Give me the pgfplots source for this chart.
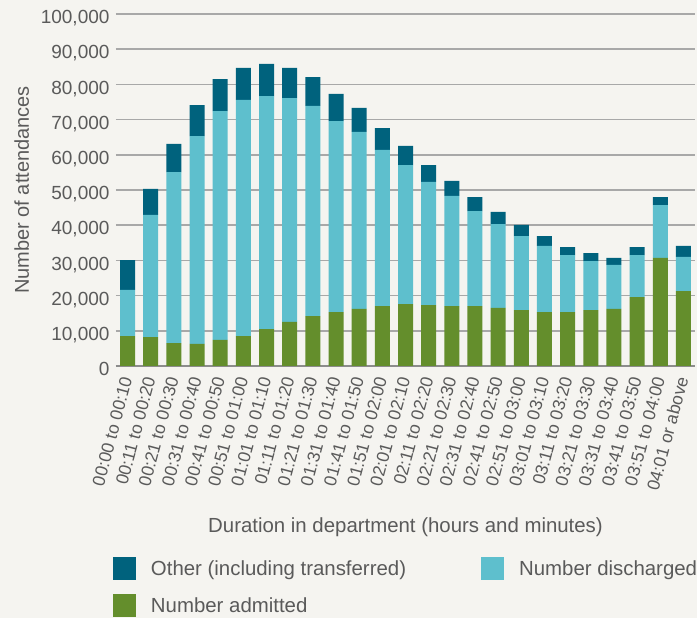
\documentclass[border=0pt]{standalone}
\usepackage{pgfplots}
\usepackage{pgfplotstable}
\pgfplotsset{compat=1.18}
\usepackage{fontspec}
\setmainfont{Liberation Sans}
\definecolor{bgc}{HTML}{F5F4F0}
\definecolor{othc}{HTML}{00627D}
\definecolor{disc}{HTML}{5EBFCD}
\definecolor{admc}{HTML}{648E2C}
\definecolor{gridc}{HTML}{A8A8A8}
\definecolor{zeroc}{HTML}{8C8C8C}
\definecolor{textc}{HTML}{5A5A5A}

\pgfplotstableread{
x adm dis oth
0 8500 13100 8500
1 8200 34700 7400
2 6500 48600 8000
3 6250 59050 8800
4 7400 65000 9100
5 8500 67100 9100
6 10500 66200 9100
7 12500 63600 8600
8 14200 59700 8200
9 15300 54300 7700
10 16200 50300 6800
11 17000 44400 6200
12 17600 39500 5400
13 17300 35000 4800
14 17000 31300 4300
15 17000 27000 4000
16 16500 23800 3450
17 15900 21000 3200
18 15300 18800 2800
19 15300 16200 2300
20 15900 13900 2300
21 16200 12500 2000
22 19600 11900 2300
23 30700 15000 2300
24 21300 9700 3100
}\datatable

\begin{document}
\begin{tikzpicture}
\fill[bgc] (0pt,0pt) rectangle (697pt,618pt);
\useasboundingbox (0pt,0pt) rectangle (697pt,618pt);
\begin{axis}[
  at={(116pt,252pt)}, anchor=south west,
  scale only axis, width=579pt, height=352pt,
  ybar stacked, bar width=15pt,
  xmin=-0.5, xmax=24.5, ymin=0, ymax=100000,
  enlargelimits=false, clip=false,
  axis line style={draw=none},
  major tick length=0pt,
  ytick={0,10000,20000,30000,40000,50000,60000,70000,80000,90000,100000},
  yticklabels={0,{10,000},{20,000},{30,000},{40,000},{50,000},{60,000},{70,000},{80,000},{90,000},{100,000}},
  ymajorgrids, grid style={line width=1.6pt, gridc},
  extra y ticks={0}, extra y tick labels={},
  extra y tick style={grid style={line width=2.5pt, zeroc}},
  scaled y ticks=false,
  yticklabel style={font=\fontsize{19}{22}\selectfont, text=textc, anchor=base east, yshift=-9.8pt, xshift=-3pt},
  xtick={0,...,24},
  xticklabels={00:00 to 00:10,00:11 to 00:20,00:21 to 00:30,00:31 to 00:40,00:41 to 00:50,00:51 to 01:00,01:01 to 01:10,01:11 to 01:20,01:21 to 01:30,01:31 to 01:40,01:41 to 01:50,01:51 to 02:00,02:01 to 02:10,02:11 to 02:20,02:21 to 02:30,02:31 to 02:40,02:41 to 02:50,02:51 to 03:00,03:01 to 03:10,03:11 to 03:20,03:21 to 03:30,03:31 to 03:40,03:41 to 03:50,03:51 to 04:00,04:01 or above},
  xticklabel style={font=\fontsize{17.5}{21}\selectfont, text=textc, yshift=-8pt, rotate=75, anchor=east},
  xlabel={Duration in department (hours and minutes)},
  xlabel style={font=\fontsize{20.4}{24}\selectfont, text=textc, at={(axis description cs:0.5,-0.4716)}, anchor=base},
  ylabel={Number of attendances},
  ylabel style={font=\fontsize{20}{24}\selectfont, text=textc, at={(axis description cs:-0.1503,0.5)}, anchor=base, rotate=0},
  legend style={at={(axis description cs:-0.0052,-0.5426)}, anchor=north west, draw=none, fill=none, inner sep=0pt, outer sep=0pt,
    font=\fontsize{20.4}{24}\selectfont, text=textc, legend columns=2, row sep=13.8pt,
    /tikz/every odd column/.append style={column sep=15pt},
    /tikz/every even column/.append style={column sep=75pt},
    nodes={inner sep=0pt, anchor=base west}},
  legend cell align=left, reverse legend,
  legend image code/.code={\fill (0pt,-4pt) rectangle (23pt,19pt);},
]
\addplot[fill=admc, draw=none] table[x=x, y=adm] {\datatable};
\addplot[fill=disc, draw=none] table[x=x, y=dis] {\datatable};
\addplot[fill=othc, draw=none] table[x=x, y=oth] {\datatable};
\legend{Number admitted, Number discharged, Other (including transferred)}
\end{axis}
\end{tikzpicture}
\end{document}
